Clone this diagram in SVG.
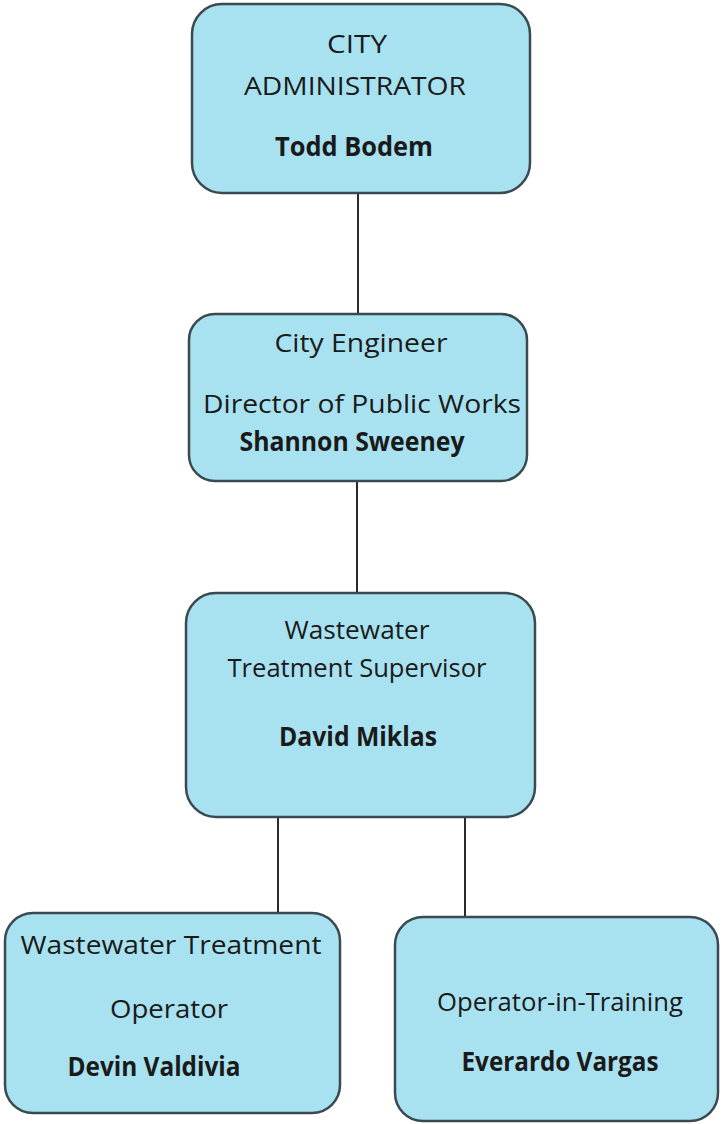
<svg xmlns="http://www.w3.org/2000/svg" width="723" height="1124" viewBox="0 0 723 1124">
<style>
.box{fill:#a8e2f0;stroke:#3b4a50;stroke-width:2.5}
.t{font-family:"Open Sans","Liberation Sans",sans-serif;font-size:26px;fill:#1a1a1a;text-anchor:middle}
.b{font-weight:bold}
.c{stroke:#2a2a2a;stroke-width:2;fill:none}
</style>
<rect width="723" height="1124" fill="#ffffff"/>
<g id="connectors">
<line class="c" x1="358" y1="193" x2="358" y2="314"/>
<line class="c" x1="357" y1="481" x2="357" y2="593"/>
<line class="c" x1="278" y1="817" x2="278" y2="913"/>
<line class="c" x1="465" y1="817" x2="465" y2="917"/>
</g>
<g id="city-administrator">
<rect class="box" x="192" y="4" width="338" height="189" rx="30"/>
<text class="t" x="357" y="53" textLength="60" lengthAdjust="spacingAndGlyphs">CITY</text>
<text class="t" x="355" y="95" textLength="222" lengthAdjust="spacingAndGlyphs">ADMINISTRATOR</text>
<text class="t b" x="354" y="156" textLength="158" lengthAdjust="spacingAndGlyphs">Todd Bodem</text>
</g>
<g id="city-engineer">
<rect class="box" x="189" y="314" width="338" height="167" rx="26"/>
<text class="t" x="361" y="352" textLength="173" lengthAdjust="spacingAndGlyphs">City Engineer</text>
<text class="t" x="362" y="413" textLength="318" lengthAdjust="spacingAndGlyphs">Director of Public Works</text>
<text class="t b" x="352" y="451" textLength="225" lengthAdjust="spacingAndGlyphs">Shannon Sweeney</text>
</g>
<g id="wastewater-supervisor">
<rect class="box" x="186" y="593" width="349" height="224" rx="30"/>
<text class="t" x="357" y="639" textLength="145" lengthAdjust="spacingAndGlyphs">Wastewater</text>
<text class="t" x="357" y="677" textLength="259" lengthAdjust="spacingAndGlyphs">Treatment Supervisor</text>
<text class="t b" x="358" y="746" textLength="158" lengthAdjust="spacingAndGlyphs">David Miklas</text>
</g>
<g id="wastewater-operator">
<rect class="box" x="5" y="913" width="335" height="200" rx="28"/>
<text class="t" x="171" y="954" textLength="301" lengthAdjust="spacingAndGlyphs">Wastewater Treatment</text>
<text class="t" x="169" y="1018" textLength="118" lengthAdjust="spacingAndGlyphs">Operator</text>
<text class="t b" x="154" y="1076" textLength="173" lengthAdjust="spacingAndGlyphs">Devin Valdivia</text>
</g>
<g id="operator-in-training">
<rect class="box" x="395" y="917" width="323" height="204" rx="28"/>
<text class="t" x="560" y="1011" textLength="246" lengthAdjust="spacingAndGlyphs">Operator-in-Training</text>
<text class="t b" x="560" y="1071" textLength="197" lengthAdjust="spacingAndGlyphs">Everardo Vargas</text>
</g>
</svg>
